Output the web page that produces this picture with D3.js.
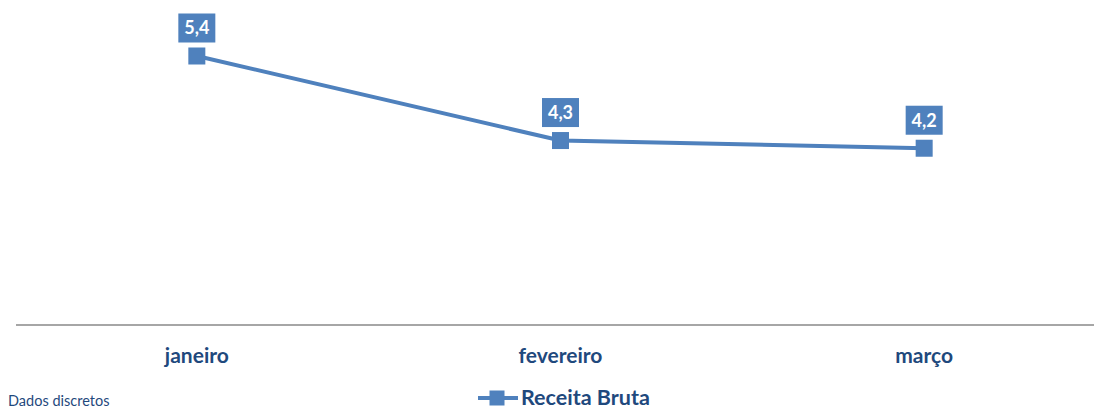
<!DOCTYPE html>
<html><head><meta charset="utf-8">
<script src="https://cdn.jsdelivr.net/npm/d3@7"></script>
<style>body{margin:0;background:#fff}svg{display:block}</style>
</head><body>
<script>
const categories = ["janeiro", "fevereiro", "março"];
const values = [5.4, 4.3, 4.2];
const valueLabels = ["5,4", "4,3", "4,2"];
const seriesName = "Receita Bruta";
const note = "Dados discretos";

const W = 1094, H = 410;
const blue = "#4f81bd", dark = "#1f497d";
const font = "Lato, 'Open Sans', sans-serif";
const svg = d3.select("body").append("svg").attr("width", W).attr("height", H);

const x = d3.scaleBand().domain(categories).range([15, 1106]);
const y = d3.scaleLinear().domain([1.9, 5.4]).range([325, 56]);
const cx = d => x(d) + x.bandwidth() / 2;

// axis line
svg.append("line").attr("x1", 16).attr("x2", W).attr("y1", 325).attr("y2", 325)
  .attr("stroke", "#a6a6a6").attr("stroke-width", 2);

// category labels
svg.selectAll("text.cat").data(categories).enter().append("text")
  .attr("x", d => cx(d)).attr("y", 363).attr("text-anchor", "middle")
  .attr("font-family", font).attr("font-weight", "bold").attr("font-size", 21)
  .attr("fill", dark).text(d => d);

const pts = categories.map((c, i) => ({c, v: values[i], l: valueLabels[i]}));

svg.append("path").datum(pts)
  .attr("d", d3.line().x(d => cx(d.c)).y(d => y(d.v)))
  .attr("fill", "none").attr("stroke", blue).attr("stroke-width", 4);

svg.selectAll("rect.m").data(pts).enter().append("rect")
  .attr("x", d => cx(d.c) - 8.5).attr("y", d => y(d.v) - 8.5)
  .attr("width", 17).attr("height", 17).attr("fill", blue);

const lab = svg.selectAll("g.lab").data(pts).enter().append("g")
  .attr("transform", d => `translate(${cx(d.c)},${y(d.v) - 28})`);
lab.append("rect").attr("x", -18.5).attr("y", -14.5).attr("width", 37).attr("height", 29).attr("fill", blue);
lab.append("text").attr("text-anchor", "middle").attr("dy", "0.36em")
  .attr("font-family", font).attr("font-weight", "bold").attr("font-size", 18)
  .attr("fill", "#fff").text(d => d.l);

// legend
svg.append("line").attr("x1", 478).attr("x2", 518).attr("y1", 398).attr("y2", 398)
  .attr("stroke", blue).attr("stroke-width", 4);
svg.append("rect").attr("x", 489.5).attr("y", 390.5).attr("width", 15).attr("height", 15).attr("fill", blue);
svg.append("text").attr("x", 521).attr("y", 405).attr("font-family", font).attr("font-weight", "bold")
  .attr("font-size", 21.5).attr("fill", dark).text(seriesName);

svg.append("text").attr("x", 8).attr("y", 406).attr("font-family", font)
  .attr("font-size", 14.5).attr("fill", dark).text(note);
</script>
</body></html>
